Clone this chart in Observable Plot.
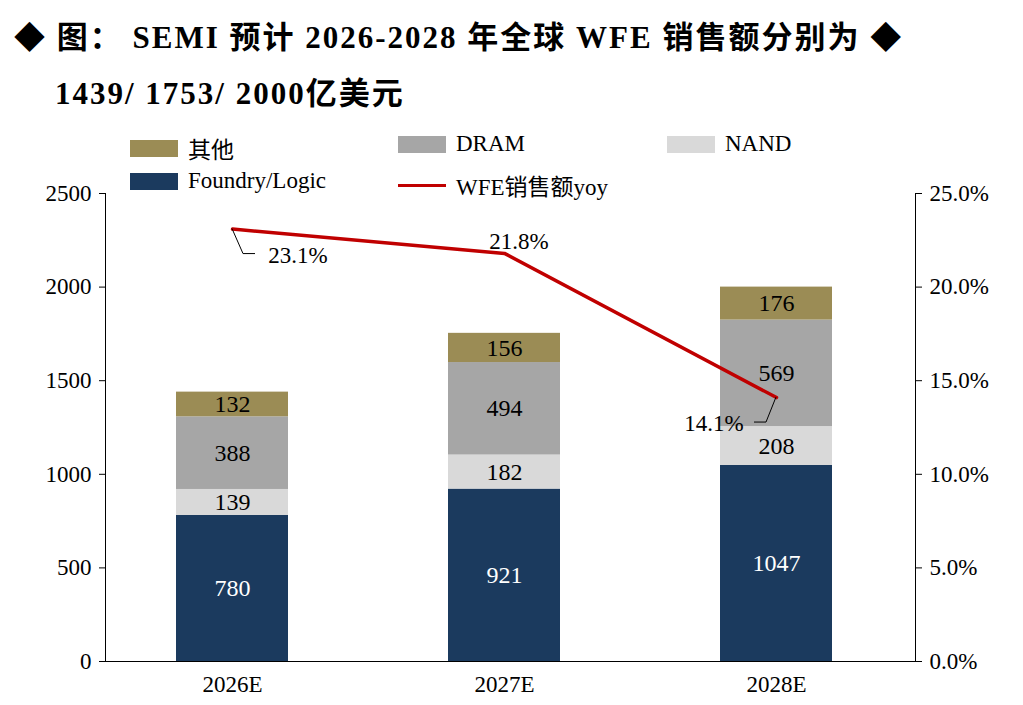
<!DOCTYPE html>
<html><head><meta charset="utf-8">
<script src="https://cdn.jsdelivr.net/npm/d3@7"></script>
<script src="https://cdn.jsdelivr.net/npm/@observablehq/plot@0.6"></script>
<style>
body{margin:0;background:#fff;width:1023px;height:705px;position:relative;overflow:hidden;font-family:"Liberation Serif","Noto Sans CJK SC",serif;}
.t{position:absolute;font-weight:bold;font-size:31px;letter-spacing:2px;white-space:nowrap;}
.lg{position:absolute;font-size:23px;display:flex;align-items:center;white-space:nowrap;}
.sw{width:48px;height:17px;margin-right:10px;}
#chart{position:absolute;left:0;top:115px;}
</style></head><body>
<div class="t" style="left:14px;top:12px">◆ 图： SEMI 预计 2026-2028 年全球 WFE 销售额分别为 ◆</div>
<div class="t" style="left:55px;top:68px">1439/ 1753/ 2000亿美元</div>
<div id="leg"></div>
<div id="chart"></div>
<script>
const years = ["2026E","2027E","2028E"];
const series = ["Foundry/Logic","NAND","DRAM","其他"];
const foundry = [780,921,1047];
const nand = [139,182,208];
const dram = [388,494,569];
const other = [132,156,176];
const yoy = [23.1,21.8,14.1];
const colors = ["#1b3a5e","#d9d9d9","#a6a6a6","#9b8c55"];
const vals = [foundry,nand,dram,other];
const data = [];
years.forEach((y,i)=>series.forEach((s,j)=>data.push({year:y,series:s,value:vals[j][i]})));
const lblOff = [[66,26],[15,-12],[-62,26]];
const line = years.map((y,i)=>({year:y,v:yoy[i]*100,label:yoy[i].toFixed(1)+"%",dx:lblOff[i][0],dy:lblOff[i][1]}));

const leg = document.getElementById("leg");
[["其他",colors[3],130,145],["DRAM",colors[2],398,145],["NAND",colors[1],667,145],["Foundry/Logic",colors[0],130,182],["WFE销售额yoy",null,398,182]].forEach(([n,c,x,y])=>{
  const d=document.createElement("div");d.className="lg";d.style.left=x+"px";d.style.top=(y-14)+"px";
  d.innerHTML=c?`<div class="sw" style="background:${c}"></div>${n}`:`<div class="sw" style="height:3px;background:#c00000"></div>${n}`;
  leg.appendChild(d);
});

const ticks=[0,500,1000,1500,2000,2500];
const chart = Plot.plot({
  width:1023,height:590,marginTop:78,marginBottom:44,marginLeft:105,marginRight:108,
  style:{fontFamily:"Liberation Serif, serif",fontSize:"23px",color:"#000"},
  x:{domain:years,paddingInner:0.59,paddingOuter:0.28,align:0.46,label:null},
  y:{domain:[0,2500],label:null},
  color:{domain:series,range:colors},
  marks:[
    Plot.barY(data,{x:"year",y:"value",fill:"series",order:series}),
    Plot.text(data,Plot.stackY({x:"year",y:"value",z:"series",order:series,text:d=>String(d.value),fill:d=>d.series==="Foundry/Logic"?"#fff":"#000",fontSize:24})),
    Plot.line(line,{x:"year",y:"v",stroke:"#c00000",strokeWidth:3.5}),
    Plot.frame({anchor:"left"}),
    Plot.frame({anchor:"right"}),
    Plot.ruleY([0]),
    Plot.axisY({anchor:"left",ticks,tickFormat:d3.format("d"),tickSize:6,tickPadding:8,fontSize:23}),
    Plot.axisY({anchor:"right",ticks,tickFormat:d=>(d/100).toFixed(1)+"%",tickSize:6,tickPadding:8,fontSize:23}),
    Plot.axisX({tickSize:0,tickPadding:14,fontSize:23})
  ]
});
const xs=chart.scale("x"), ys=chart.scale("y");
const g=d3.select(chart.tagName==="svg"?chart:chart.querySelector("svg")).append("g");
line.forEach(d=>{
  const px=xs.apply(d.year)+xs.bandwidth/2, py=ys.apply(d.v);
  g.append("text").attr("x",px+d.dx).attr("y",py+d.dy).attr("text-anchor","middle").attr("dy","0.35em")
   .attr("font-size",23).attr("font-family","Liberation Serif, serif").text(d.label);
});
const p0=[xs.apply(years[0])+xs.bandwidth/2, ys.apply(line[0].v)];
g.append("path").attr("d",`M${p0[0]},${p0[1]}L${p0[0]+11},${p0[1]+25}L${p0[0]+23},${p0[1]+25}`).attr("stroke","#000").attr("fill","none");
const p2=[xs.apply(years[2])+xs.bandwidth/2, ys.apply(line[2].v)];
g.append("path").attr("d",`M${p2[0]},${p2[1]}L${p2[0]-10},${p2[1]+25}L${p2[0]-22},${p2[1]+25}`).attr("stroke","#000").attr("fill","none");
document.getElementById("chart").appendChild(chart);
</script>
</body></html>
